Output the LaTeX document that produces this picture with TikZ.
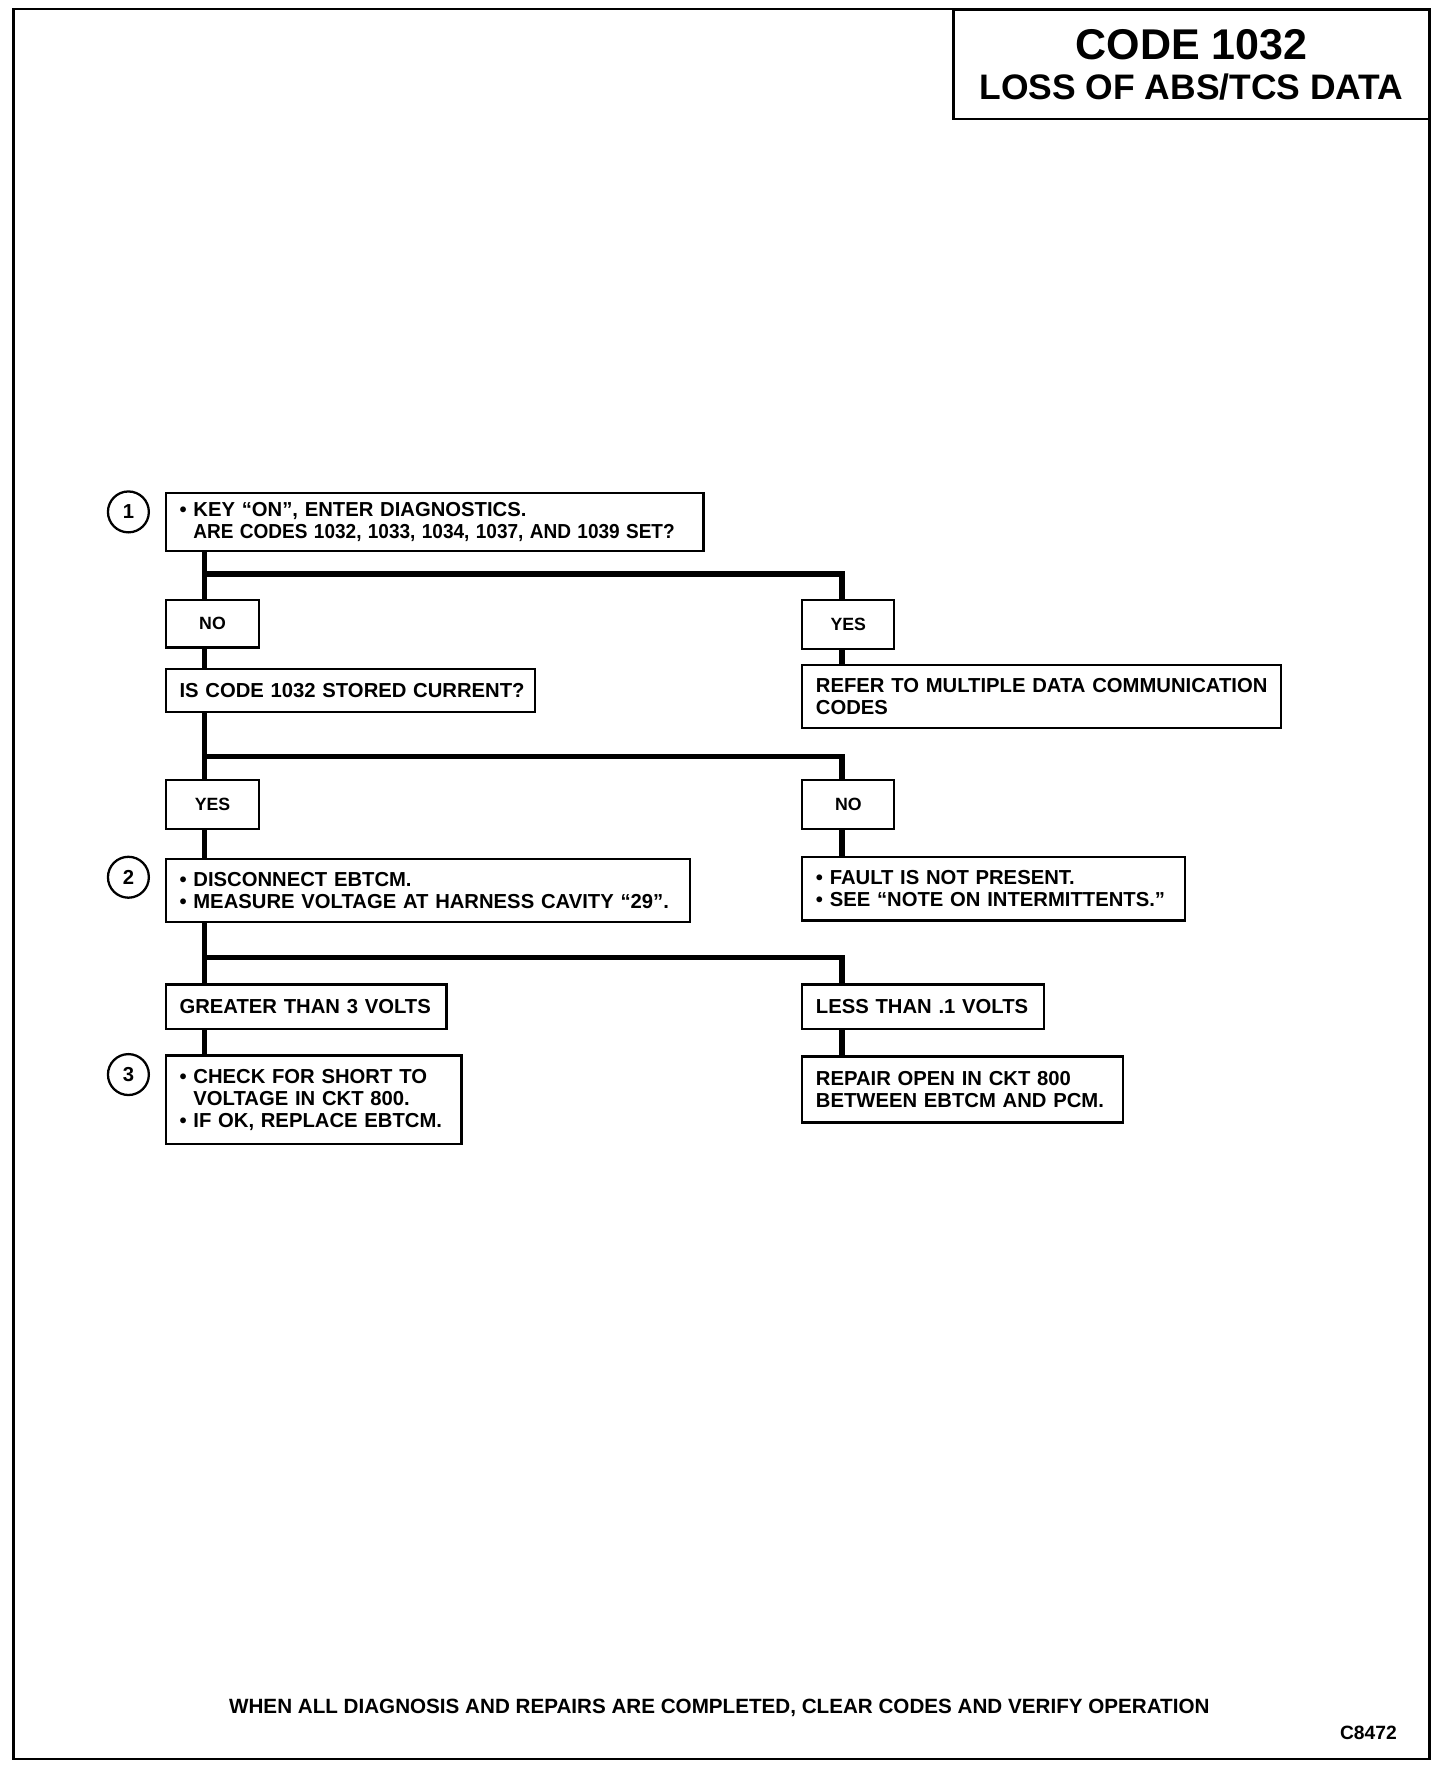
\documentclass[tikz,border=0pt]{standalone}
\usepackage{fontspec}
\setmainfont{Liberation Sans}
\newlength\px
\setlength\px{0.01577cm}

\begin{document}
\begin{tikzpicture}[x=0.01577cm,y=-0.01566cm,
  box/.style 2 args={draw,line width=0.9pt,anchor=north west,inner xsep=12\px,inner ysep=0pt,
    text width=#1\px,minimum height=#2\px,align=left,font=\bfseries\fontsize{8}{8.6}\selectfont,
    execute at begin node={\rightskip=-40\px plus 1fil}},
  tag/.style 2 args={draw,line width=0.9pt,anchor=north west,inner sep=0pt,
    minimum width=#1\px,minimum height=#2\px,font=\bfseries\fontsize{7}{8}\selectfont},
  num/.style={circle,draw,line width=0.9pt,minimum size=36\px,inner sep=0pt,font=\bfseries\fontsize{8}{8}\selectfont},
  link/.style={line width=2.2pt}]
\useasboundingbox (0,0) rectangle (1268,1568);
\draw[line width=0.9pt] (12,8) rectangle (1258,1560);

\node[draw,line width=0.9pt,anchor=north west,minimum width=419\px,minimum height=96\px,align=center,
  font=\bfseries\fontsize{14}{16}\selectfont] (title) at (838,8)
  {{\fontsize{17}{17}\selectfont CODE 1032}\\LOSS OF ABS/TCS DATA};

\node[num] (s1) at (113,454) {1};
\node[num] (s2) at (113,778) {2};
\node[num] (s3) at (113,953) {3};

\node[box={449}{51}] (step1) at (145,436) {• KEY “ON”, ENTER DIAGNOSTICS.\\\phantom{• }\scalebox{0.94}[1]{ARE CODES 1032, 1033, 1034, 1037, AND 1039 SET?}};
\node[tag={82}{42}] (no1) at (145,531) {NO};
\node[tag={81}{43}] (yes1) at (705,531) {YES};
\node[box={301}{38}] (q2) at (145,592) {IS CODE 1032 STORED CURRENT?};
\node[box={397}{55}] (refer) at (705,589) {REFER TO MULTIPLE DATA COMMUNICATION\\CODES};
\node[tag={82}{43}] (yes2) at (145,691) {YES};
\node[tag={81}{43}] (no2) at (705,691) {NO};
\node[box={437}{55}] (step2) at (145,761) {• DISCONNECT EBTCM.\\• MEASURE VOLTAGE AT HARNESS CAVITY “29”.};
\node[box={313}{56}] (fault) at (705,759) {• FAULT IS NOT PRESENT.\\• SEE “NOTE ON INTERMITTENTS.”};
\node[box={223}{39}] (gt) at (145,872) {GREATER THAN 3 VOLTS};
\node[box={189}{39}] (lt) at (705,872) {LESS THAN .1 VOLTS};
\node[box={236}{78}] (step3) at (145,935) {• CHECK FOR SHORT TO\\\phantom{• }VOLTAGE IN CKT 800.\\• IF OK, REPLACE EBTCM.};
\node[box={258}{58}] (repair) at (705,936) {REPAIR OPEN IN CKT 800\\BETWEEN EBTCM AND PCM.};

\node[font=\bfseries\fontsize{8.15}{9}\selectfont] (note) at (633,1515) {WHEN ALL DIAGNOSIS AND REPAIRS ARE COMPLETED, CLEAR CODES AND VERIFY OPERATION};
\node[anchor=east,font=\bfseries\fontsize{7.6}{8}\selectfont] (fig) at (1237,1537) {C8472};

% branch points
\coordinate (jl1) at (180,509); \coordinate (jr1) at (741,509);
\coordinate (jl2) at (180,671); \coordinate (jr2) at (741,671);
\coordinate (jl3) at (180,849); \coordinate (jr3) at (741,849);

\foreach \from/\to/\at in {step1/no1/jl1,no1/q2/jl1,yes1/refer/jr1,q2/yes2/jl2,yes2/step2/jl2,no2/fault/jr2,step2/gt/jl3,gt/step3/jl3,lt/repair/jr3}
\draw[link] (\from.south -| \at) -- (\to.north -| \at);
\foreach \j/\to in {1/yes1,2/no2,3/lt}
\draw[link] (jl\j) -- (jr\j) -- (\to.north -| jr\j);
\end{tikzpicture}
\end{document}
